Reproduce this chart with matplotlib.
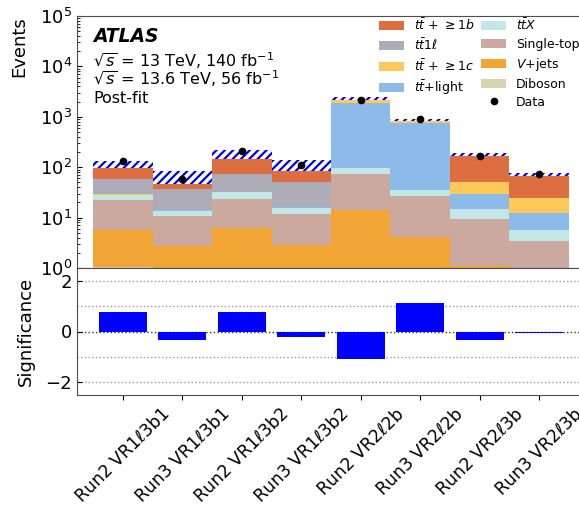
import numpy as np
import matplotlib
matplotlib.use("Agg")
import matplotlib.pyplot as plt
from matplotlib.patches import Patch
from matplotlib.lines import Line2D

# regions (x axis)
regions = ["Run2 VR1$\\ell$3b1", "Run3 VR1$\\ell$3b1", "Run2 VR1$\\ell$3b2", "Run3 VR1$\\ell$3b2",
           "Run2 VR2$\\ell$2b", "Run3 VR2$\\ell$2b", "Run2 VR2$\\ell$3b", "Run3 VR2$\\ell$3b"]

# post-fit yields per process (stacked bottom -> top)
diboson   = [1.06, 0.4, 0.9, 0.4, 0.8, 0.3, 0.3, 0.1]
vjets     = [4.7, 2.3, 5.3, 2.5, 13.4, 3.9, 0.8, 0.5]
singletop = [16.9, 7.9, 16.7, 9.1, 58.2, 22.5, 8.2, 2.9]
ttx       = [5.4, 3.0, 8.7, 3.8, 24.6, 9.0, 5.4, 2.3]
tt_light  = [0.6, 0.3, 0.8, 0.4, 1782.0, 712.0, 14.6, 6.8]
tt_1c     = [0.3, 0.2, 0.4, 0.2, 350.0, 90.0, 22.4, 11.4]
tt_1l     = [30.4, 22.2, 41.9, 35.3, 0.5, 0.3, 0.1, 0.1]
tt_1b     = [55.2, 28.1, 107.3, 61.3, 103.0, 28.0, 123.8, 48.0]

total_unc = [17.5, 18.7, 37.0, 28.8, 145.0, 46.0, 12.5, 5.0]
data      = [132, 59, 212, 110, 2188, 912, 166, 73.6]
signif    = [0.76, -0.34, 0.76, -0.22, -1.09, 1.14, -0.34, -0.05]

procs = [
    ("Diboson", diboson, "#d8d3b1"),
    ("$V$+jets", vjets, "#f0a534"),
    ("Single-top", singletop, "#cba99f"),
    ("$t\\bar{t}X$", ttx, "#c1e8e6"),
    ("$t\\bar{t}$+light", tt_light, "#8cbbe9"),
    ("$t\\bar{t}$ + $\\geq$1$c$", tt_1c, "#fdc95a"),
    ("$t\\bar{t}$1$\\ell$", tt_1l, "#adacb8"),
    ("$t\\bar{t}$ + $\\geq$1$b$", tt_1b, "#dd6e40"),
]

W, H = 579, 505
fig = plt.figure(figsize=(W / 100, H / 100), dpi=100)
plt.rcParams["hatch.linewidth"] = 1.6

def fr(x0, y0, x1, y1):
    return [x0 / W, 1 - y1 / H, (x1 - x0) / W, (y1 - y0) / H]

ax = fig.add_axes(fr(77, 16, 585, 268))
axr = fig.add_axes(fr(77, 268, 585, 395), sharex=ax)

x = np.arange(len(regions))
bottom = np.zeros(len(regions))
handles = {}
for name, vals, col in procs:
    vals = np.array(vals)
    ax.bar(x, vals, width=1.0, bottom=bottom, color=col, linewidth=0, zorder=2)
    handles[name] = Patch(facecolor=col, edgecolor="none")
    bottom = bottom + vals

# total uncertainty band on top of the stack
unc = np.array(total_unc)
ax.bar(x, 2 * unc, width=1.0, bottom=bottom - unc, facecolor="white",
       edgecolor="#0000ee", hatch="////", linewidth=0, zorder=3)
ax.plot(x, data, "o", color="black", markersize=4.5, zorder=4)

ax.set_yscale("log")
ax.set_ylim(1, 1e5)
ax.set_xlim(-0.77, 7.77)
ax.set_ylabel("Events", fontsize=13, loc="top")
ax.yaxis.set_label_coords(-0.096, 1.0)
ax.tick_params(axis="y", which="both", direction="in", labelsize=13)
ax.tick_params(axis="x", which="both", bottom=False, labelbottom=False)

fig.text(93 / W, 1 - 42.3 / H, "ATLAS", fontsize=13.5, fontweight="bold", fontstyle="italic", va="baseline")
fig.text(93 / W, 1 - 66.7 / H, "$\\sqrt{s}$ = 13 TeV, 140 fb$^{-1}$", fontsize=11.5, va="baseline")
fig.text(93 / W, 1 - 85 / H, "$\\sqrt{s}$ = 13.6 TeV, 56 fb$^{-1}$", fontsize=11.5, va="baseline")
fig.text(93 / W, 1 - 102.7 / H, "Post-fit", fontsize=11.5, va="baseline")

order = ["$t\\bar{t}$ + $\\geq$1$b$", "$t\\bar{t}$1$\\ell$", "$t\\bar{t}$ + $\\geq$1$c$", "$t\\bar{t}$+light"]
order2 = ["$t\\bar{t}X$", "Single-top", "$V$+jets", "Diboson"]
hl = [handles[n] for n in order] + [Patch(facecolor="none", edgecolor="none")]
ll = order + [""]
hl += [handles[n] for n in order2] + [Line2D([], [], marker="o", color="black", linestyle="none", markersize=4.5)]
ll += order2 + ["Data"]
ax.legend(hl, ll, loc="upper left", bbox_to_anchor=(379 / W, 1 - 17 / H), bbox_transform=fig.transFigure,
          ncol=2, frameon=False, fontsize=9, borderpad=0, borderaxespad=0, columnspacing=0.5,
          handletextpad=0.8, labelspacing=0.4)

# significance panel
axr.bar(x, signif, width=0.8, color="#0000ff", linewidth=0, zorder=2)
for yv in [-2, -1, 1, 2]:
    axr.axhline(yv, color="0.6", linestyle=":", linewidth=1, zorder=1)
axr.axhline(0, color="0.2", linestyle=":", linewidth=1, zorder=1)
axr.set_ylim(-2.5, 2.5)
axr.set_yticks([-2, 0, 2])
axr.set_ylabel("Significance", fontsize=13)
axr.yaxis.set_label_coords(-0.083, 0.5)
axr.tick_params(axis="y", direction="in", labelsize=13)
axr.set_xticks(x)
axr.set_xticklabels(regions, rotation=45, fontsize=12.5)

for a in (ax, axr):
    for s in a.spines.values():
        s.set_color("0.3")

fig.savefig("out.png", dpi=100)
